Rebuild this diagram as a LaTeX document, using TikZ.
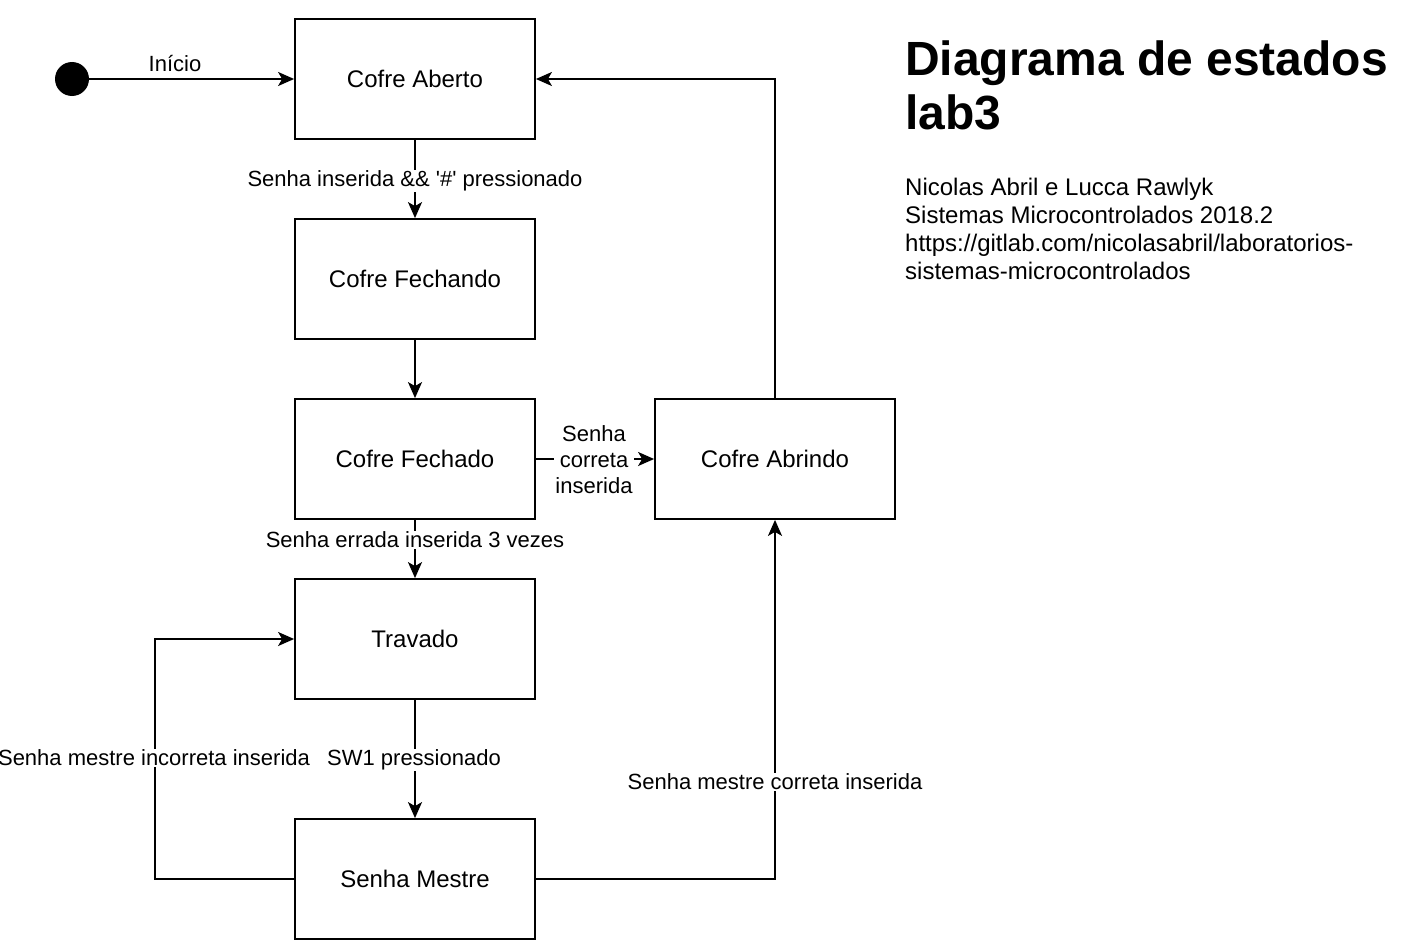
\documentclass[tikz,border=0pt]{standalone}
\usepackage{fontspec}
\setmainfont{Liberation Sans}
\usetikzlibrary{arrows.meta}
\begin{document}
\begin{tikzpicture}[x=1pt,y=-1pt,
  state/.style={draw,line width=1.8pt,minimum width=240pt,minimum height=120pt,inner sep=0pt,font=\fontsize{24}{28}\selectfont},
  arr/.style={line width=1.8pt,-{Stealth[length=16pt,width=14pt,inset=4pt]}},
  lbl/.style={fill=white,inner sep=1pt,font=\fontsize{22}{26}\selectfont,align=center}]
\useasboundingbox (0,0) rectangle (1418,942);
\node[circle,fill=black,minimum size=34pt,inner sep=0pt] (start) at (72,79) {};
\node[state] (aberto) at (415,79) {Cofre Aberto};
\node[state] (fechando) at (415,279) {Cofre Fechando};
\node[state] (fechado) at (415,459) {Cofre Fechado};
\node[state] (travado) at (415,639) {Travado};
\node[state] (mestre) at (415,879) {Senha Mestre};
\node[state] (abrindo) at (775,459) {Cofre Abrindo};
\coordinate (lp) at (155,760);

\draw[arr] (start) -- (aberto);
\draw[arr] (aberto) -- (fechando);
\draw[arr] (fechando) -- (fechado);
\draw[arr] (fechado) -- (abrindo);
\draw[arr] (fechado) -- (travado);
\draw[arr] (travado) -- (mestre);
\draw[arr] (mestre.west) -| (lp) |- (travado.west);
\draw[arr] (mestre.east) -| (abrindo.south);
\draw[arr] (abrindo.north) |- (aberto.east);

\node[inner sep=0pt,font=\fontsize{22}{26}\selectfont] (l0) at (175,64) {Início};
\node[lbl] (l1) at (415,181) {Senha inserida \&\& \textquotesingle\#\textquotesingle{} pressionado};
\node[lbl,font=\fontsize{22}{26}\selectfont] (l2) at (594,460) {Senha\\correta\\inserida};
\node[lbl] (l3) at (415,540) {Senha errada inserida 3 vezes};
\node[lbl] (l4) at (414,760) {SW1 pressionado};
\node[lbl] (l5) at (154,758) {Senha mestre incorreta inserida};
\node[lbl] (l6) at (775,782) {Senha mestre correta inserida};

\node[anchor=base west,inner sep=0pt,align=left,font=\fontsize{48}{54}\bfseries\selectfont] (title) at (905,129) {Diagrama de estados\\lab3};
\node[anchor=base west,inner sep=0pt,align=left,font=\fontsize{24}{28}\selectfont] (info) at (905,279) {Nicolas Abril e Lucca Rawlyk\\Sistemas Microcontrolados 2018.2\\https://gitlab.com/nicolasabril/laboratorios-\\sistemas-microcontrolados};
\end{tikzpicture}
\end{document}
